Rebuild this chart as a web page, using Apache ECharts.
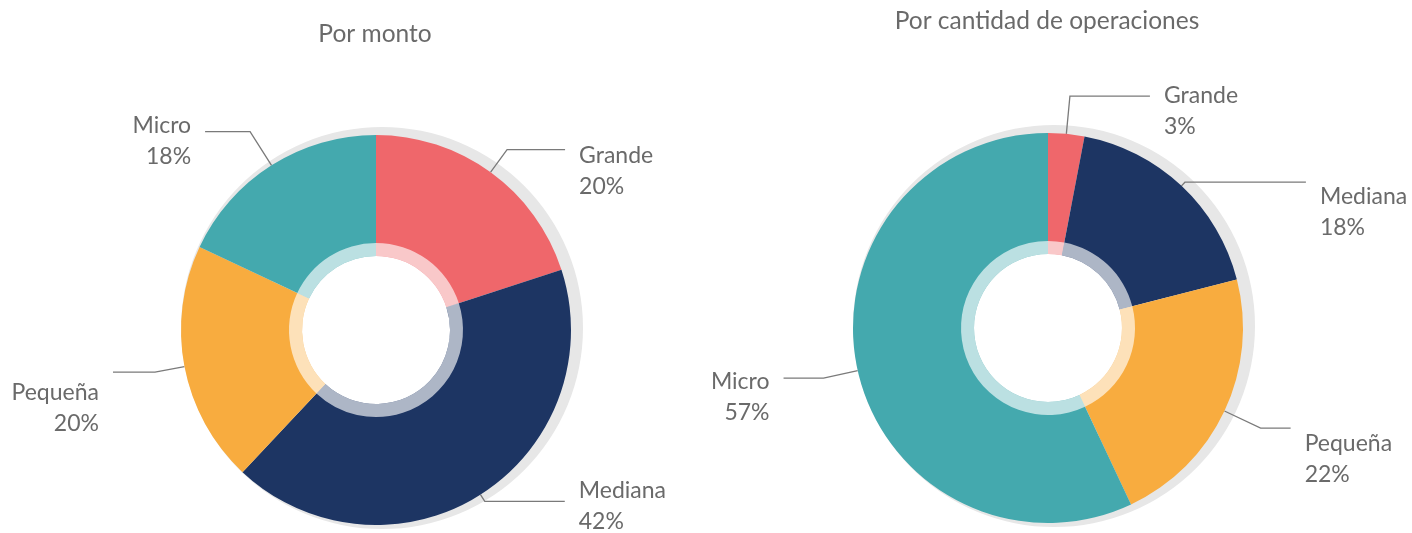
<!DOCTYPE html>
<html>
<head>
<meta charset="utf-8">
<script src="https://cdn.jsdelivr.net/npm/echarts@6/dist/echarts.min.js"></script>
<style>
html,body{margin:0;padding:0;background:#fff;}
#chart{width:1412px;height:533px;}
</style>
</head>
<body>
<div id="chart"></div>
<script>
// ---- data ----
const categories = ['Grande', 'Mediana', 'Pequeña', 'Micro'];
const montoValues = [20, 42, 20, 18];
const operacionesValues = [3, 18, 22, 57];
const chartTitles = ['Por monto', 'Por cantidad de operaciones'];
const backdropValue = [1];

// ---- styles ----
const colors = ['#EF676B', '#1D3563', '#F8AC3F', '#44A9AE'];
const textColor = '#6a6a6a';
const fontFamily = 'Lato, "Open Sans", sans-serif';
const fontSize = 23;
const lineH = 31;
// per-slice label line lengths / spacer height above the text block
const montoLabelStyle = [
  {len: 28, len2: 58, pad: 43},
  {len: 8, len2: 80, pad: 9},
  {len: 30, len2: 42, pad: 71},
  {len: 40, len2: 45, pad: 18}
];
const operLabelStyle = [
  {len: 38, len2: 80, pad: 31},
  {len: 5, len2: 121, pad: 59},
  {len: 40, len2: 30, pad: 62},
  {len: 35, len2: 40, pad: 37}
];

function buildData(values, styles) {
  return categories.map((name, i) => ({
    name: name,
    value: values[i],
    itemStyle: {color: colors[i]},
    label: {
      formatter: '{sp| }\n{t|{b}}\n{t|{c}%}',
      rich: {
        sp: {height: styles[i].pad, lineHeight: styles[i].pad, fontSize: 1},
        t: {color: textColor, fontFamily: fontFamily, fontSize: fontSize, lineHeight: lineH}
      }
    },
    labelLine: {length: styles[i].len, length2: styles[i].len2}
  }));
}
function bandData(values) {
  return categories.map((name, i) => ({name: name, value: values[i]}));
}

function donutSeries(values, styles, center) {
  return [
    {
      type: 'pie',
      silent: true,
      center: [center[0] + 6, center[1] - 2],
      radius: [120, 201],
      label: {show: false},
      labelLine: {show: false},
      itemStyle: {color: '#e7e7e7'},
      data: backdropValue.map(v => ({value: v})),
      z: 1
    },
    {
      type: 'pie',
      silent: true,
      center: center,
      radius: [74, 195],
      startAngle: 90,
      clockwise: true,
      avoidLabelOverlap: false,
      label: {
        show: true,
        position: 'outside',
        color: textColor,
        fontFamily: fontFamily,
        fontSize: fontSize,
        distanceToLabelLine: 14
      },
      labelLine: {
        show: true,
        lineStyle: {color: '#7a7a7a', width: 1.3}
      },
      data: buildData(values, styles),
      z: 2
    },
    {
      type: 'pie',
      silent: true,
      center: center,
      radius: [74, 87],
      startAngle: 90,
      clockwise: true,
      label: {show: false},
      labelLine: {show: false},
      itemStyle: {color: 'rgba(255,255,255,0.64)'},
      data: bandData(values),
      z: 3
    }
  ];
}

const chart = echarts.init(document.getElementById('chart'), null, {renderer: 'canvas'});
chart.setOption({
  backgroundColor: '#ffffff',
  animation: false,
  title: [
    {text: chartTitles[0], left: 370, top: 17, textAlign: 'center',
     textStyle: {color: textColor, fontFamily: fontFamily, fontSize: 24.5, fontWeight: 'normal'}},
    {text: chartTitles[1], left: 1042, top: 4, textAlign: 'center',
     textStyle: {color: textColor, fontFamily: fontFamily, fontSize: 24.5, fontWeight: 'normal'}}
  ],
  series: [].concat(
    donutSeries(montoValues, montoLabelStyle, [376, 330]),
    donutSeries(operacionesValues, operLabelStyle, [1048, 328])
  )
});
</script>
</body>
</html>
